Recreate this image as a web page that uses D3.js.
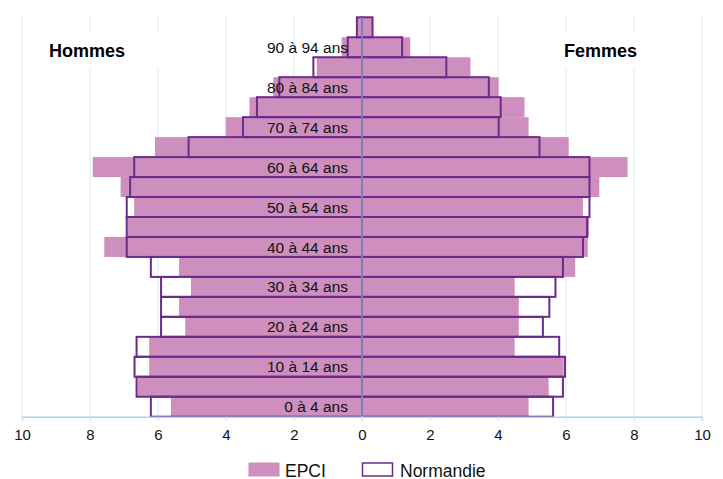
<!DOCTYPE html>
<html>
<head>
<meta charset="utf-8">
<script src="https://cdn.jsdelivr.net/npm/d3@7"></script>
<style>
  body { margin: 0; background: #fff; }
  svg { display: block; font-family: "Liberation Sans", Arial, sans-serif; }
</style>
</head>
<body>
<div id="chartCtn"></div>
<script>
// age groups from bottom (0-4) to top (95+)
var ages = [ "0 à 4 ans", "5 à 9 ans", "10 à 14 ans", "15 à 19 ans", "20 à 24 ans", "25 à 29 ans",
	"30 à 34 ans", "35 à 39 ans", "40 à 44 ans", "45 à 49 ans", "50 à 54 ans", "55 à 59 ans",
	"60 à 64 ans", "65 à 69 ans", "70 à 74 ans", "75 à 79 ans", "80 à 84 ans", "85 à 89 ans",
	"90 à 94 ans", "95 ans ou plus" ];

var hommesEPCI = [ 5.62, 6.6, 6.26, 6.26, 5.2, 5.38, 5.03, 5.38, 7.58, 6.9, 6.7, 7.1, 7.92, 6.09, 4.01, 3.31, 2.61, 1.33, 0.6, 0.14 ];
var hommesNormandie = [ 6.21, 6.63, 6.69, 6.63, 5.91, 5.91, 5.91, 6.21, 6.92, 6.92, 6.92, 6.82, 6.7, 5.1, 3.5, 3.09, 2.43, 1.43, 0.42, 0.15 ];
var femmesEPCI = [ 4.9, 5.49, 5.93, 4.49, 4.61, 4.61, 4.49, 6.27, 6.64, 6.68, 6.5, 6.98, 7.81, 6.08, 4.9, 4.78, 4.02, 3.19, 1.42, 0.3 ];
var femmesNormandie = [ 5.62, 5.91, 5.97, 5.8, 5.32, 5.51, 5.69, 5.91, 6.5, 6.62, 6.69, 6.69, 6.69, 5.22, 4.02, 4.08, 3.73, 2.48, 1.18, 0.31 ];

var xTicks = [ -10, -8, -6, -4, -2, 0, 2, 4, 6, 8, 10 ];
var legendLabels = [ "EPCI", "Normandie" ];

var width = 723, height = 479;
var pink = "#cf8fbe", purple = "#6b2b8b", grid = "#d3e9f8";

var x = d3.scaleLinear().domain( [ -10, 10 ] ).range( [ 22, 702 ] );
var y = d3.scaleBand().domain( ages.slice().reverse() ).range( [ 17.3, 416.7 ] ).padding( 0 );

var svg = d3.select( "#chartCtn" ).append( "svg" )
	.attr( "width", width ).attr( "height", height );

// vertical grid
svg.append( "g" ).selectAll( "line" )
	.data( xTicks.filter( d => d !== 0 ) )
	.enter().append( "line" )
	.attr( "x1", d => x( d ) ).attr( "x2", d => x( d ) )
	.attr( "y1", 17.3 ).attr( "y2", 421 )
	.attr( "stroke", grid ).attr( "stroke-width", 1 );

// Hommes / Femmes labels with white box
var sexes = [ { t: "Hommes", x0: 30, x1: 176, tx: 49 }, { t: "Femmes", x0: 540, x1: 690, tx: 564 } ];
svg.append( "g" ).selectAll( "rect" ).data( sexes ).enter().append( "rect" )
	.attr( "x", d => d.x0 ).attr( "y", 31 )
	.attr( "width", d => d.x1 - d.x0 ).attr( "height", 37 )
	.attr( "fill", "#fff" );
svg.append( "g" ).selectAll( "text" ).data( sexes ).enter().append( "text" )
	.attr( "x", d => d.tx ).attr( "y", 56.5 )
	.attr( "font-size", "18px" ).attr( "font-weight", "bold" )
	.text( d => d.t );

function bars( vals, sign, cls ) {
	return svg.append( "g" ).selectAll( "rect" )
		.data( vals.map( ( v, i ) => ( { age: ages[ i ], v: v } ) ) )
		.enter().append( "rect" )
		.attr( "class", cls )
		.attr( "x", d => sign < 0 ? x( -d.v ) : x( 0 ) )
		.attr( "y", d => y( d.age ) )
		.attr( "width", d => x( d.v ) - x( 0 ) )
		.attr( "height", y.bandwidth() );
}

bars( hommesEPCI, -1, "epci" ).attr( "fill", pink );
bars( femmesEPCI, 1, "epci" ).attr( "fill", pink );
bars( hommesNormandie, -1, "norm" ).attr( "fill", "none" ).attr( "stroke", purple ).attr( "stroke-width", 2 );
bars( femmesNormandie, 1, "norm" ).attr( "fill", "none" ).attr( "stroke", purple ).attr( "stroke-width", 2 );

// center axis and bottom axis line
svg.append( "line" )
	.attr( "x1", x( 0 ) ).attr( "x2", x( 0 ) ).attr( "y1", 17.3 ).attr( "y2", 421 )
	.attr( "stroke", "#9fcbeb" ).attr( "stroke-width", 1 );

var xAxis = svg.append( "g" )
	.attr( "transform", "translate(0,416.7)" )
	.call( d3.axisBottom( x ).tickValues( xTicks ).tickFormat( d => Math.abs( d ) ).tickSize( 4 ).tickPadding( 9 ) );
xAxis.select( ".domain" ).attr( "stroke", "#a9d3f0" ).attr( "stroke-width", 1.5 );
xAxis.selectAll( ".tick line" ).attr( "stroke", grid );
xAxis.selectAll( "text" ).attr( "font-size", "15px" ).attr( "fill", "#111" )
	.attr( "font-family", "Liberation Sans, Arial, sans-serif" );

// age labels (every other group)
svg.append( "g" ).selectAll( "text" )
	.data( ages.filter( ( a, i ) => i % 2 === 0 ) )
	.enter().append( "text" )
	.attr( "x", 348 )
	.attr( "y", d => y( d ) + y.bandwidth() / 2 )
	.attr( "dy", "0.36em" )
	.attr( "text-anchor", "end" )
	.attr( "font-size", "15.5px" ).attr( "fill", "#111" )
	.text( d => d );

// legend
var legend = svg.append( "g" );
legend.append( "rect" ).attr( "x", 248.5 ).attr( "y", 462.5 ).attr( "width", 31 ).attr( "height", 14 ).attr( "fill", pink );
legend.append( "text" ).attr( "x", 285 ).attr( "y", 476.5 ).attr( "font-size", "17.5px" ).attr( "fill", "#111" ).text( legendLabels[ 0 ] );
legend.append( "rect" ).attr( "x", 362.5 ).attr( "y", 463 ).attr( "width", 30 ).attr( "height", 13 )
	.attr( "fill", "#fff" ).attr( "stroke", purple ).attr( "stroke-width", 1.5 );
legend.append( "text" ).attr( "x", 400 ).attr( "y", 476.5 ).attr( "font-size", "17.5px" ).attr( "fill", "#111" ).text( legendLabels[ 1 ] );
</script>
</body>
</html>
